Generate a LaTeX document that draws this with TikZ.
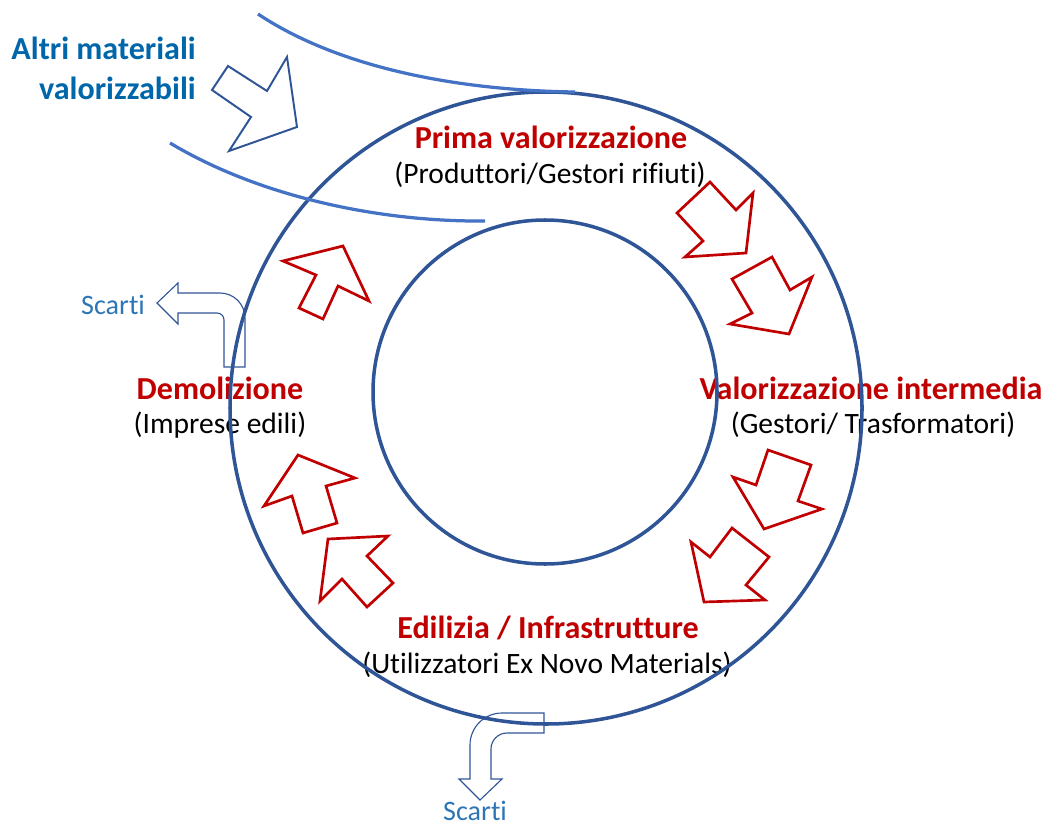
\documentclass[tikz,border=0pt]{standalone}
\usepackage{fontspec}
\setmainfont{Carlito}[Ligatures=NoCommon]
\usepackage{tikz}
\definecolor{ringblue}{RGB}{47,85,151}
\definecolor{flowblue}{RGB}{68,114,196}
\definecolor{txtblue}{RGB}{0,102,170}
\definecolor{scartiblue}{RGB}{46,117,182}
\definecolor{stepred}{RGB}{192,0,0}
\def\redarrow(#1)(#2)(#3)(#4)(#5)(#6)(#7){\draw[line width=1.9pt, color=stepred, line join=miter] (#1) -- (#2) -- (#3) -- (#4) -- (#5) -- (#6) -- (#7) -- cycle;}
\tikzset{
  head/.style={font=\fontsize{22.8}{26}\selectfont\bfseries, text=stepred, inner sep=0pt},
  who/.style={font=\fontsize{21}{25}\selectfont, text=black, inner sep=0pt},
  scartilabel/.style={font=\fontsize{20}{24}\selectfont, text=scartiblue, inner sep=0pt}
}

\begin{document}
\begin{tikzpicture}[x=0.025cm, y=-0.025cm]
			%%%%% START %%%%%
			\useasboundingbox (0, 0) rectangle (1045, 827);
			
			% testi
			\node[head, text=txtblue, anchor=east] (altri1) at (196, 48) {Altri materiali};
			\node[head, text=txtblue, anchor=east] (altri2) at (196, 88) {valorizzabili};
			
			\node[head] (prima) at (551, 137) {Prima valorizzazione};
			\node[who] (produttori) at (550, 175) {(Produttori/Gestori rifiuti)};
			\node[head] (intermedia) at (871, 388) {Valorizzazione intermedia};
			\node[who] (gestori) at (873, 425) {(Gestori/ Trasformatori)};
			\node[head] (demolizione) at (220, 388) {Demolizione};
			\node[who] (imprese) at (220, 425) {(Imprese edili)};
			\node[head] (edilizia) at (548, 628) {Edilizia / Infrastrutture};
			\node[who] (utilizzatori) at (547, 665) {(Utilizzatori Ex Novo Materials)};
			
			\node[scartilabel] (scarti1) at (113, 305) {Scarti};
			\node[scartilabel] (scarti2) at (475, 811) {Scarti};
			
			% anelli
			\draw[line width=2.5pt, color=ringblue] (546, 408) circle (316);
			\draw[line width=2.5pt, color=ringblue] (545, 392) circle (172);
			
			% flusso in ingresso
			\draw[line width=2.3pt, color=flowblue] (258, 14) .. controls (330, 62) and (440, 90) .. (575, 92);
			\draw[line width=2.3pt, color=flowblue] (170, 143) .. controls (260, 197) and (380, 222) .. (485, 221);
			\draw[line width=1.4pt, color=ringblue, line join=miter] (212, 90) -- (228, 66) -- (267, 91) -- (287, 57) -- (297, 127) -- (229, 151) -- (251, 117) -- cycle;
			
			% frecce del ciclo
			\redarrow(710, 182)(736, 210)(753, 193)(746, 253)(685, 257)(703, 241)(677, 213)
			\redarrow(772, 257)(790, 290)(812, 277)(789, 334)(730, 324)(752, 313)(732, 279)
			\redarrow(768, 450)(811, 465)(798, 501)(822, 509)(764, 529)(733, 477)(756, 485)
			\redarrow(732, 528)(769, 557)(746, 585)(765, 600)(704, 602)(691, 542)(710, 557)
			\redarrow(328, 539)(388, 536)(367, 556)(393, 583)(367, 607)(342, 579)(320, 601)
			\redarrow(298, 455)(355, 478)(326, 486)(337, 523)(303, 533)(292, 496)(264, 506)
			\redarrow(343, 246)(369, 301)(338, 286)(323, 319)(299, 308)(316, 275)(283, 261)
			
			% scarti
			\draw[line width=0.8pt, color=ringblue] (157, 303) -- (178, 283) -- (178, 293) -- (220, 293)
			  .. controls (233.8, 293) and (245, 304.2) .. (245, 318) -- (245, 367) -- (224, 367) -- (224, 320)
			  .. controls (224, 316.1) and (220.9, 313) .. (217, 313) -- (178, 313) -- (178, 324) -- cycle;
			\draw[line width=0.8pt, color=ringblue] (480, 800) -- (459, 779) -- (470, 779) -- (470, 745)
			  .. controls (470, 727.3) and (484.3, 713) .. (502, 713) -- (544, 713) -- (544, 733) -- (507, 733)
			  .. controls (498.2, 733) and (491, 740.2) .. (491, 749) -- (491, 779) -- (502, 779) -- cycle;
			
			%%%%% END %%%%%
\end{tikzpicture}
\end{document}
